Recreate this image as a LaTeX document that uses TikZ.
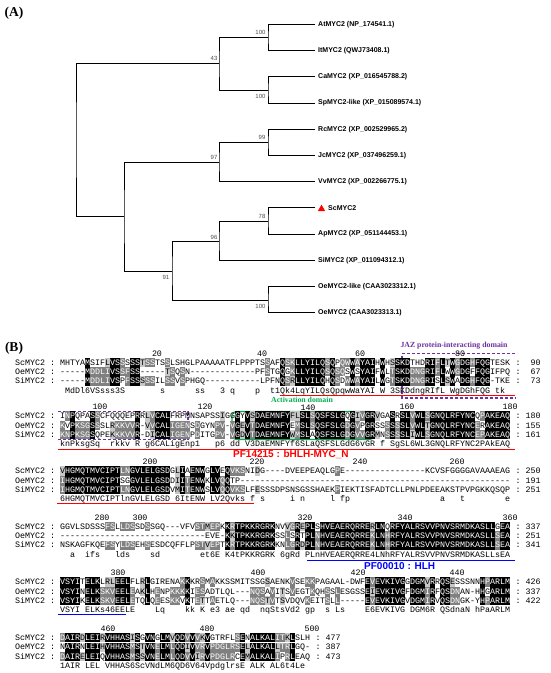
\documentclass[tikz,border=0pt]{standalone}
\usepackage{fontspec}
\setmainfont{Liberation Sans}
\newfontfamily\timesfont{Liberation Serif}
\newfontfamily\seqfont{Liberation Mono}
\usetikzlibrary{shapes.geometric}
\definecolor{jaz}{HTML}{7030A0}
\definecolor{actg}{HTML}{00B050}
\definecolor{pfr}{HTML}{FF0000}
\definecolor{pfb}{HTML}{0000FF}

\ExplSyntaxOn
\str_new:N \l_aln_a_str
\str_new:N \l_aln_b_str
\str_new:N \l_aln_c_str
\str_new:N \l_aln_d_str
\int_new:N \l_aln_ga_int
\int_new:N \l_aln_gb_int
\int_new:N \l_aln_gc_int
\tl_new:N \l_aln_type_tl
\cs_new_protected:Npn \aln_setgroup:Nn #1#2
  {
    \str_case:nnF {#2}
      {
        {I}{\int_set:Nn #1 {1}} {L}{\int_set:Nn #1 {1}} {V}{\int_set:Nn #1 {1}} {M}{\int_set:Nn #1 {1}}
        {F}{\int_set:Nn #1 {2}} {Y}{\int_set:Nn #1 {2}} {W}{\int_set:Nn #1 {2}}
        {K}{\int_set:Nn #1 {3}} {R}{\int_set:Nn #1 {3}} {H}{\int_set:Nn #1 {3}}
        {D}{\int_set:Nn #1 {4}} {E}{\int_set:Nn #1 {4}}
        {N}{\int_set:Nn #1 {5}} {Q}{\int_set:Nn #1 {5}}
        {S}{\int_set:Nn #1 {6}} {T}{\int_set:Nn #1 {6}}
      }
      { \int_set:Nn #1 {0} }
  }
\cs_new_protected:Npn \aln_type:nnn #1#2#3
  {
    \tl_set:Nn \l_aln_type_tl {n}
    \str_if_eq:nnF {#1} {-}
      {
        \bool_if:nTF { \str_if_eq_p:nn {#1} {#2} && \str_if_eq_p:nn {#1} {#3} }
          { \tl_set:Nn \l_aln_type_tl {k} }
          {
            \bool_if:nTF { \str_if_eq_p:nn {#1} {#2} || \str_if_eq_p:nn {#1} {#3} }
              { \tl_set:Nn \l_aln_type_tl {g} }
              {
                \aln_setgroup:Nn \l_aln_ga_int {#1}
                \aln_setgroup:Nn \l_aln_gb_int {#2}
                \aln_setgroup:Nn \l_aln_gc_int {#3}
                \bool_if:nT
                  {
                    \int_compare_p:nNn \l_aln_ga_int > 0
                    && ( \int_compare_p:nNn \l_aln_ga_int = \l_aln_gb_int
                         || \int_compare_p:nNn \l_aln_ga_int = \l_aln_gc_int )
                  }
                  { \tl_set:Nn \l_aln_type_tl {l} }
              }
          }
      }
  }
\cs_generate_variant:Nn \aln_type:nnn { eee }
\cs_new_protected:Npn \aln_fillrow:nnNNN #1#2#3#4#5
  {
    \int_step_inline:nn { \str_count:N #3 }
      {
        \aln_type:eee { \str_item:Nn #3 {##1} } { \str_item:Nn #4 {##1} } { \str_item:Nn #5 {##1} }
        \str_case:Vn \l_aln_type_tl
          {
            {k} { \fill[black] (\int_eval:n {#1 + 5*(##1-1)}, #2) rectangle ++(5,9.3); }
            {g} { \fill[black!50] (\int_eval:n {#1 + 5*(##1-1)}, #2) rectangle ++(5,9.3); }
            {l} { \fill[black!22] (\int_eval:n {#1 + 5*(##1-1)}, #2) rectangle ++(5,9.3); }
          }
      }
  }
\cs_new_protected:Npn \aln_textrow:NNN #1#2#3
  {
    \int_step_inline:nn { \str_count:N #1 }
      {
        \aln_type:eee { \str_item:Nn #1 {##1} } { \str_item:Nn #2 {##1} } { \str_item:Nn #3 {##1} }
        \str_case:VnF \l_aln_type_tl
          {
            {k} { \makebox[5pt]{\textcolor{white}{\str_item:Nn #1 {##1}}} }
            {g} { \makebox[5pt]{\textcolor{white}{\str_item:Nn #1 {##1}}} }
          }
          { \makebox[5pt]{\str_item:Nn #1 {##1}} }
      }
  }
\NewDocumentCommand \ShadeFill { m m m m m }
  {
    \str_set:Nx \l_aln_a_str {#3}
    \str_set:Nx \l_aln_b_str {#4}
    \str_set:Nx \l_aln_c_str {#5}
    \aln_fillrow:nnNNN {#1} {#2} \l_aln_a_str \l_aln_b_str \l_aln_c_str
  }
\NewDocumentCommand \ShadeText { m m m }
  {
    \str_set:Nx \l_aln_a_str {#1}
    \str_set:Nx \l_aln_b_str {#2}
    \str_set:Nx \l_aln_c_str {#3}
    \aln_textrow:NNN \l_aln_a_str \l_aln_b_str \l_aln_c_str
  }
\NewDocumentCommand \Cons { m }
  {
    \str_set:Nx \l_aln_d_str {#1}
    \str_map_inline:Nn \l_aln_d_str
      { \str_if_eq:nnTF {##1} {.} { \makebox[5pt]{} } { \makebox[5pt]{##1} } }
  }
\ExplSyntaxOff

\newcommand\seqsize{\fontsize{8.33pt}{9.3pt}\seqfont}

\def\ScA{MHTYAMSIFLVSSSSSTSSTSSLSHGLPAAAAATFLPPPTSSAFQSKLLYILQSQPQWWAYAIHWHSSKDTHDRIFLTWGDGHFQGTESK}
\def\OeA{-----MDDLIVSSFSS-----TSQSN-------------PFSTGQGKLLYILQSQSQSWSYAIFWLTSKDDNGRIFLWWGDGFFQGIFPQ}
\def\SiA{-----MDDLIVSPFSSSSSILSSVSPHGQ-----------LPFNQSRLLYILQHQSDWWAYAILWGTSKDDNGRISLSWADGHFQG-TKE}
\def\CoA{.MdDl6VSsss3S.......s......ss...3.q....p..t1Qk4LqYILQsQpqwWaYAI.W.3SKDdngRIfL.WgDGhFQG.tk.}

\def\ScB{INPQPASSCFQQQEPRRLVCALFRPMNSAPSSIGGGYVSDAEMNFYFLSLSQSFSLGQGIVGRVGASRSLVWLSGNQLRFYNCQPAKEAQ}
\def\OeB{KVPKSGSSSLRKKVVR-VVCALIGENSDGYNPV-VGEVTDAEMNFYEMSLSQSFSLGDGVPGRSSSSSSLVWLTGNQLRFYNCERAKEAQ}
\def\SiB{KNPKSGSQPEKKKVVR-DICALIGENPDITGPV-VGDVTDAEMNFYWMSLAQSFSLGDGVVGRMNSSSSLIWLSGNQLRFYNCEPAKEAQ}
\def\CoB{knPksgSq..rkkv.R.g6CALigEnp1...p6.dd.V3DaEMNFYf6SLaQSFSLGdG6vGR.f.SgSL6WL3GNQLRFYNC2PAkEAQ}

\def\ScC{VHGMQTMVCIPTLNGVLELGSDGLIAENWGLVEQVKSNIDG----DVEEPEAQLGPE----------------KCVSFGGGGAVAAAEAG}
\def\OeC{IHGMQTMVCIPTSGGVLELGSDDIITENWKLVQQTP------------------------------------------------------}
\def\SiC{IHGMQTMVCIPTLNGVLELGSDVMITENWSLVQQVKSLFESSSDPSNSGSSHAEKPIEKTISFADTCLLPNLPDEEAKSTPVPGKKQSQP}
\def\CoC{6HGMQTMVCIPTlnGVLELGSD.6ItENW.LV2Qvks.f.s.....i.n.....l.fp..................a...t........e}

\def\ScD{GGVLSDSSSFSLLDSSDSSGQ---VFVSTMEPKKRTPKKRGRKNVVGREPLSHVEAERQRRERLNQRFYALRSVVPNVSRMDKASLLGEA}
\def\OeD{-----------------------------EVE-KKTPKKRGRKSSLSRTPLNHVEAERQRREKLNHRFYALRSVVPNVSRMDKASLLSEA}
\def\SiD{NSKAGFKQEFSYLDSEHSESDCQFFLPSTVEPTKRTPKKRGRKKNLGRDPLNHVEAERQRREKLNHRFYALRSVVPNVSRMDKASLLSEA}
\def\CoD{..a..ifs...lds....sd........et6E.K4tPKKRGRK.6gRd.PLnHVEAERQRRE4LNhRFYALRSVVPNVSRMDKASLLsEA}

\def\ScE{VSYITELKLRLEELFLRLGIRENAKKKRSMAKKSSMITSSGSAENKVSEKKPAGAAL-DWFEVEVKIVGGDGMVRRQSESSSNNHPARLM}
\def\OeE{VSYINELKSKVEELEAKLHENPKKKKIESADTLQL---NQSAVITSVEGTKQHSSLESGSSEIEVKIVGFDGMIRFQSDNAN-HHGARLM}
\def\SiE{VSYIKELKSKVEELETQLQEESKKVKTETTAETLQ---NQSTVTSVDQVKEITSLL-----EVEVKIVGVDGMIRVQSDNGK-YHPARLM}
\def\CoE{VSYI.ELKs46EELE....Lq....kk.K.e3.ae.qd..nqStsVd2.gp..s.Ls....E6EVKIVG.DGM6R.QSdnaN.hPaARLM}

\def\ScF{DAIRDLEIRVHHASISGVNGLMVQDVVVKVGTRFLSENALKALITKLSLH}
\def\OeF{NAIRNLEIHVHHASMSTVNELMLQDIVVRVPDGLRSELALKALLTRLGQ-}
\def\SiF{DAIRELEIQVHHASMSSVNELMLQDVVIRVPDGLRCEMALKALIPRLEAQ}
\def\CoF{1AIR.LEL.VHHAS6ScVNdLM6QD6V64VpdglrsE.ALK.AL6t4Le.}

\newcommand\AlnBlock[9]{%
  \ShadeFill{60}{#2+4.35}{#3}{#4}{#5}%
  \ShadeFill{60}{#2+13.7}{#4}{#3}{#5}%
  \ShadeFill{60}{#2+23.05}{#5}{#3}{#4}%
  \node[seqtxt] (#1an) at (15,#2+11.75) {ScMYC2};
  \node[seqtxt] (#1ac) at (50,#2+11.75) {:};
  \node[seqtxt] (#1as) at (60,#2+11.75) {\ShadeText{#3}{#4}{#5}};
  \node[seqtxt] (#1ae) at ([xshift=5pt]#1as.base east) {:};
  \node[seqtxt,anchor=base east] (#1ax) at ([xshift=20pt]#1ae.base east) {#7};
  \node[seqtxt] (#1bn) at (15,#2+21.1) {OeMYC2};
  \node[seqtxt] (#1bc) at (50,#2+21.1) {:};
  \node[seqtxt] (#1bs) at (60,#2+21.1) {\ShadeText{#4}{#3}{#5}};
  \node[seqtxt] (#1be) at ([xshift=5pt]#1bs.base east) {:};
  \node[seqtxt,anchor=base east] (#1bx) at ([xshift=20pt]#1be.base east) {#8};
  \node[seqtxt] (#1cn) at (15,#2+30.45) {SiMYC2};
  \node[seqtxt] (#1cc) at (50,#2+30.45) {:};
  \node[seqtxt] (#1cs) at (60,#2+30.45) {\ShadeText{#5}{#3}{#4}};
  \node[seqtxt] (#1ce) at ([xshift=5pt]#1cs.base east) {:};
  \node[seqtxt,anchor=base east] (#1cx) at ([xshift=20pt]#1ce.base east) {#9};
  \node[seqtxt] (#1d) at (60,#2+39.75) {\Cons{#6}};
}

\begin{document}
\begin{tikzpicture}[x=1pt,y=-1pt,
  br/.style={line width=1pt,draw=black,line join=miter},
  leaf/.style={anchor=west,inner xsep=3pt,inner ysep=1pt,font=\fontsize{7pt}{8pt}\selectfont\bfseries},
  boot/.style={inner sep=0pt,font=\fontsize{6pt}{7pt}\selectfont,text=black!70},
  panel/.style={inner sep=0pt,font={\timesfont\bfseries\fontsize{13.5pt}{15pt}\selectfont}},
  tri/.style={regular polygon,regular polygon sides=3,fill=red,draw=none,minimum size=8.4pt,inner sep=0pt},
  seqtxt/.style={anchor=base west,inner sep=0pt,font=\seqsize},
  poslab/.style={anchor=base,inner sep=0pt,font=\seqsize},
  domlab/.style={inner sep=0pt,font={\timesfont\bfseries\fontsize{7.8pt}{9pt}\selectfont}},
  pflab/.style={anchor=west,inner sep=0pt,font=\fontsize{10pt}{12pt}\selectfont\bfseries},
  uline/.style={line width=1.2pt},
  jazbox/.style={draw=jaz,line width=1.1pt,dash pattern=on 3pt off 2pt}
]
\useasboundingbox (0,0) rectangle (550,673);
\fill[white] (0,0) rectangle (550,673);

\node[panel] (labA) at (14,13) {(A)};

\node[leaf] (lAt) at (315,24.5) {AtMYC2 (NP\_174541.1)};
\node[leaf] (lIt) at (315,50.7) {ItMYC2 (QWJ73408.1)};
\node[leaf] (lCa) at (315,76.9) {CaMYC2 (XP\_016545788.2)};
\node[leaf] (lSp) at (315,103.1) {SpMYC2-like (XP\_015089574.1)};
\node[leaf] (lRc) at (315,129.3) {RcMYC2 (XP\_002529965.2)};
\node[leaf] (lJc) at (315,155.5) {JcMYC2 (XP\_037496259.1)};
\node[leaf] (lVv) at (315,181.7) {VvMYC2 (XP\_002266775.1)};
\coordinate (tSc) at (315,207.9);
\node[tri] (mSc) at (321.5,208.9) {};
\node[leaf] (lSc) at (325,207.9) {ScMYC2};
\node[leaf] (lAp) at (315,234.1) {ApMYC2 (XP\_051144453.1)};
\node[leaf] (lSi) at (315,260.3) {SiMYC2 (XP\_011094312.1)};
\node[leaf] (lOl) at (315,286.5) {OeMYC2-like (CAA3023312.1)};
\node[leaf] (lOe) at (315,312.7) {OeMYC2 (CAA3023313.1)};

\coordinate (n1) at (268,37.6);
\coordinate (n2) at (268,90);
\coordinate (n3) at (219,63.8);
\coordinate (n4) at (268,142.4);
\coordinate (n5) at (219,162);
\coordinate (n6) at (268,221);
\coordinate (n7) at (219,241.5);
\coordinate (n8) at (268,300.5);
\coordinate (n9) at (172,271);
\coordinate (n10) at (124,216.5);
\coordinate (root) at (76,140);

\draw[br] (lAt.west) -| (n1) |- (lIt.west);
\draw[br] (lCa.west) -| (n2) |- (lSp.west);
\draw[br] (n1) -| (n3) |- (n2);
\draw[br] (lRc.west) -| (n4) |- (lJc.west);
\draw[br] (n4) -| (n5) |- (lVv.west);
\draw[br] (tSc) -| (n6) |- (lAp.west);
\draw[br] (n6) -| (n7) |- (lSi.west);
\draw[br] (lOl.west) -| (n8) |- (lOe.west);
\draw[br] (n7) -| (n9) |- (n8);
\draw[br] (n5) -| (n10) |- (n9);
\draw[br] (n3) -| (root) |- (n10);

\node[boot] (bs1) at (260.5,32) {100};
\node[boot] (bs2) at (214,58.7) {43};
\node[boot] (bs3) at (260.5,96) {100};
\node[boot] (bs4) at (262,137) {99};
\node[boot] (bs5) at (214,157) {97};
\node[boot] (bs6) at (262,216.2) {78};
\node[boot] (bs7) at (214,237) {96};
\node[boot] (bs8) at (166,277) {91};
\node[boot] (bs9) at (260.5,306) {100};

\node[panel] (labB) at (14,348.4) {(B)};

% domain boxes (drawn under the alignment)
\draw[jazbox] (515,353.5) -- (402,353.5) -- (402,398) -- (515,398);
\draw[jazbox] (58,411.5) -- (188,411.5) -- (188,439.5) -- (58,439.5);
\draw[draw=actg,line width=1.1pt,rounded corners=4pt] (232,411.5) rectangle (374,439.5);

\AlnBlock{A}{353.3}{\ScA}{\OeA}{\SiA}{\CoA}{90}{67}{73}
\AlnBlock{B}{407}{\ScB}{\OeB}{\SiB}{\CoB}{180}{155}{161}
\AlnBlock{C}{462}{\ScC}{\OeC}{\SiC}{\CoC}{250}{191}{251}
\AlnBlock{D}{517.5}{\ScD}{\OeD}{\SiD}{\CoD}{337}{251}{341}
\AlnBlock{E}{573}{\ScE}{\OeE}{\SiE}{\CoE}{426}{337}{422}
\AlnBlock{F}{628.8}{\ScF}{\OeF}{\SiF}{\CoF}{477}{387}{473}

\node[poslab] (pA1) at (157,356.05) {20};
\node[poslab] (pA2) at (262,356.05) {40};
\node[poslab] (pA3) at (360,356.05) {60};
\node[poslab] (pA4) at (460,356.05) {80};
\node[poslab] (pB1) at (100,409.75) {100};
\node[poslab] (pB2) at (205,409.75) {120};
\node[poslab] (pB3) at (308,410.2) {140};
\node[poslab] (pB4) at (407,409.75) {160};
\node[poslab] (pB5) at (510,409.75) {180};
\node[poslab] (pC1) at (150,464.75) {200};
\node[poslab] (pC2) at (257,464.75) {220};
\node[poslab] (pC3) at (360,464.75) {240};
\node[poslab] (pC4) at (457,464.75) {260};
\node[poslab] (pD1) at (102,520.25) {280};
\node[poslab] (pD2) at (140,520.25) {300};
\node[poslab] (pD3) at (305,520.25) {320};
\node[poslab] (pD4) at (405,520.25) {340};
\node[poslab] (pD5) at (510,520.25) {360};
\node[poslab] (pE1) at (118,575.75) {380};
\node[poslab] (pE2) at (258,575.75) {400};
\node[poslab] (pE3) at (358,575.75) {420};
\node[poslab] (pE4) at (457,575.75) {440};
\node[poslab] (pF1) at (108,631.55) {460};
\node[poslab] (pF2) at (207,631.55) {480};
\node[poslab] (pF3) at (312,631.55) {500};

\node[domlab,text=jaz] (jazlab) at (454,346) {JAZ protein-interacting domain};
\node[domlab,text=actg] (actlab) at (302,399.8) {Activation domain};

\draw[uline,pfr] (280,395.5) -- (515,395.5);
\draw[uline,pfr] (58,449.3) -- (515,449.3);
\node[pflab,text=pfr] (pf1) at (233,454) {PF14215 : bHLH-MYC\_N};
\draw[uline,pfr] (57,503.3) -- (254,503.3);
\draw[uline,pfb] (307,560.7) -- (515,560.7);
\node[pflab,text=pfb] (pf2) at (364,566) {PF00010 : HLH};
\draw[uline,pfb] (58,614.3) -- (126,614.3);
\end{tikzpicture}
\end{document}
